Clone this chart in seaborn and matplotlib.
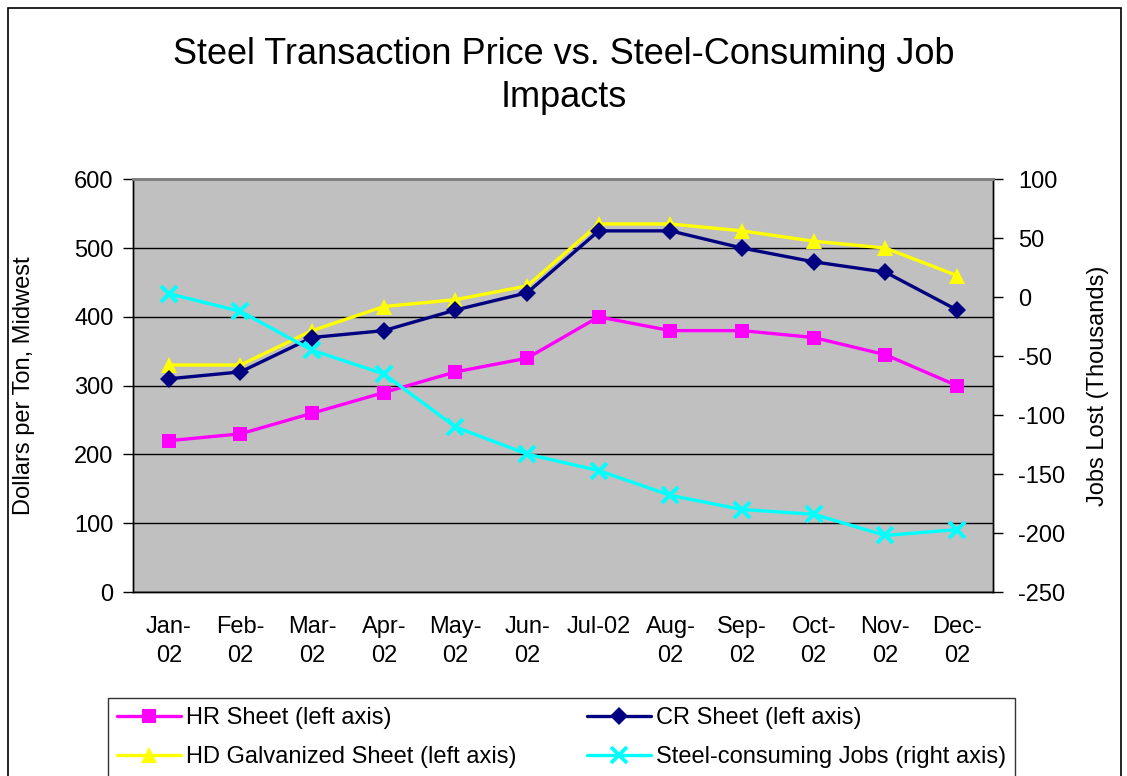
import numpy as np
import pandas as pd
import seaborn as sns
import matplotlib.pyplot as plt
from matplotlib.patches import Rectangle

# chart data
months = ["Jan-02", "Feb-02", "Mar-02", "Apr-02", "May-02", "Jun-02",
          "Jul-02", "Aug-02", "Sep-02", "Oct-02", "Nov-02", "Dec-02"]
month_labels = ["Jan-\n02", "Feb-\n02", "Mar-\n02", "Apr-\n02", "May-\n02", "Jun-\n02",
                "Jul-02", "Aug-\n02", "Sep-\n02", "Oct-\n02", "Nov-\n02", "Dec-\n02"]
hr_sheet = [220, 230, 260, 290, 320, 340, 400, 380, 380, 370, 345, 300]
cr_sheet = [310, 320, 370, 380, 410, 435, 525, 525, 500, 480, 465, 410]
hd_galv = [330, 330, 380, 415, 425, 445, 535, 535, 525, 510, 500, 460]
jobs = [3, -12, -45, -65, -110, -133, -147, -168, -180, -184, -202, -197]

df = pd.DataFrame({"month": months, "pos": np.arange(len(months)),
                   "HR": hr_sheet, "CR": cr_sheet, "HD": hd_galv, "Jobs": jobs})

sns.set_theme(style="white")
plt.rcParams['font.family'] = ['Liberation Sans', 'DejaVu Sans']
plt.rcParams['axes.unicode_minus'] = False
for k in ['text.color', 'axes.labelcolor', 'xtick.color', 'ytick.color']:
    plt.rcParams[k] = 'black'

fig = plt.figure(figsize=(11.27, 7.76), dpi=100)
ax = fig.add_axes([0.118, 0.237, 0.763, 0.532])
ax.set_facecolor("#C0C0C0")
ax2 = ax.twinx()

lw = 2.4
ms = 10
fs = 17
sns.lineplot(data=df, x="pos", y="HR", ax=ax, color="#FF00FF", lw=lw,
             marker="s", markersize=ms, markeredgewidth=0, markeredgecolor="#FF00FF",
             label="HR Sheet (left axis)", legend=False)
sns.lineplot(data=df, x="pos", y="HD", ax=ax, color="#FFFF00", lw=lw,
             marker="^", markersize=ms + 2, markeredgewidth=0, markeredgecolor="#FFFF00",
             label="HD Galvanized Sheet (left axis)", legend=False)
sns.lineplot(data=df, x="pos", y="CR", ax=ax, color="#000080", lw=lw,
             marker="D", markersize=ms - 1, markeredgewidth=0, markeredgecolor="#000080",
             label="CR Sheet (left axis)", legend=False)
sns.lineplot(data=df, x="pos", y="Jobs", ax=ax2, color="#00FFFF", lw=lw,
             marker="x", markersize=ms + 1, markeredgewidth=2.8, markeredgecolor="#00FFFF",
             label="Steel-consuming Jobs (right axis)", legend=False)
ax.lines[2].set_zorder(3)
ax.lines[1].set_zorder(2.5)

ax.set_xlim(-0.5, len(months) - 0.5)
ax.set_ylim(0, 600)
ax.set_yticks(range(0, 601, 100))
ax2.set_ylim(-250, 100)
ax2.set_yticks(range(-250, 101, 50))

ax.set_xticks(df["pos"])
ax.set_xticklabels(month_labels, fontsize=fs, linespacing=1.42)
ax.set_xticks(np.arange(0.5, len(months) - 1, 1), minor=True)
ax.tick_params(axis="x", which="major", length=0, pad=17)
ax.tick_params(axis="x", which="minor", length=7, width=1, color="black", direction="out")
ax.tick_params(axis="y", labelsize=fs, length=7, width=1, color="black", direction="out", left=True, pad=7)
ax2.tick_params(axis="y", labelsize=fs, length=7, width=1, color="black", direction="out", right=True, pad=11)

ax.yaxis.grid(True, color="black", lw=1)
ax.set_axisbelow(True)
ax.set_xlabel("")
ax.set_ylabel("Dollars per Ton, Midwest", fontsize=fs, labelpad=28)
ax2.set_ylabel("Jobs Lost (Thousands)", fontsize=fs, labelpad=16)

for a in (ax, ax2):
    for s in a.spines.values():
        s.set_color("black")
        s.set_linewidth(1)
    a.spines["top"].set_color("#808080")
    a.spines["top"].set_linewidth(2)

fig.suptitle("Steel Transaction Price vs. Steel-Consuming Job\nImpacts",
             fontsize=26, y=0.952, linespacing=1.27)

h = ax.get_lines()[:3] + ax2.get_lines()[:1]
h_order = [h[0], h[1], h[2], h[3]]
leg = fig.legend(h_order, [x.get_label() for x in h_order], ncol=2,
                 loc="upper left", bbox_to_anchor=(108 / 1127, 1 - 698 / 776),
                 fontsize=fs, frameon=True, fancybox=False, edgecolor="black",
                 handlelength=2.7, handletextpad=0.2, borderaxespad=0, labelspacing=0.72,
                 columnspacing=3.0, borderpad=0.4)
leg.get_frame().set_linewidth(1)

fig.patches.append(Rectangle((0.007, -0.01), 0.988, 1.0, transform=fig.transFigure,
                             fill=False, edgecolor="black", lw=1.2))

fig.savefig("out.png", dpi=100)
